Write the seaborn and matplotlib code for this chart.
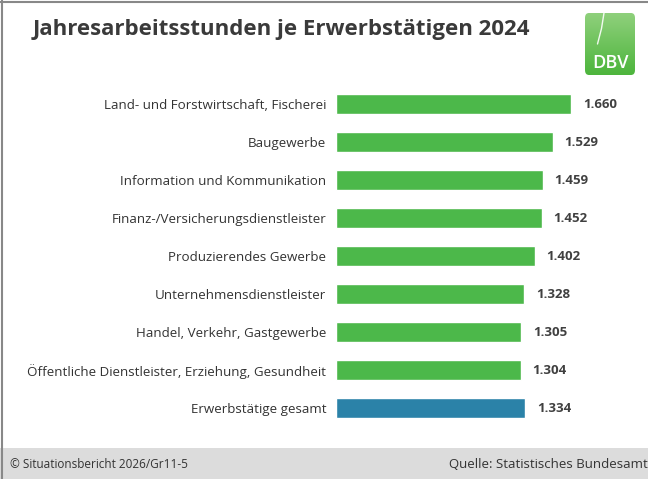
import matplotlib
matplotlib.use('Agg')
import matplotlib.pyplot as plt
import seaborn as sns
import numpy as np
import pandas as pd
from matplotlib.patches import FancyBboxPatch, Rectangle
from matplotlib.lines import Line2D

# Daten
branchen = [
    'Land- und Forstwirtschaft, Fischerei',
    'Baugewerbe',
    'Information und Kommunikation',
    'Finanz-/Versicherungsdienstleister',
    'Produzierendes Gewerbe',
    'Unternehmensdienstleister',
    'Handel, Verkehr, Gastgewerbe',
    'Öffentliche Dienstleister, Erziehung, Gesundheit',
    'Erwerbstätige gesamt',
]
stunden = [1660, 1529, 1459, 1452, 1402, 1328, 1305, 1304, 1334]
farben = ['#4cb84a'] * 8 + ['#2b82a8']

sns.set_style("white")
plt.rcParams['font.family'] = ['Open Sans', 'DejaVu Sans']

df = pd.DataFrame({'branche': branchen, 'stunden': stunden})

fig = plt.figure(figsize=(6.48, 4.79), dpi=100)
ax = fig.add_axes([336 / 648, 52 / 479, 300 / 648, 342 / 479])

sns.barplot(data=df, x='stunden', y='branche', hue='branche',
            palette=farben, legend=False, width=0.55, saturation=1, ax=ax)

ax.set_xlim(0, 300 / 0.1416)
ax.set_ylim(8.5, -0.5)
for i, v in enumerate(stunden):
    ax.text(v + 85, i, f'{v:,}'.replace(',', '.'), va='center', ha='left',
            fontsize=9.5, fontweight='bold', color='#404040')

ax.set_xlabel('')
ax.set_ylabel('')
ax.set_xticks([])
ax.tick_params(axis='y', length=0, pad=7, labelsize=9.6, labelcolor='#333333')
sns.despine(ax=ax, left=True, bottom=True)

# Titel
fig.text(33 / 648, 1 - 30 / 479, 'Jahresarbeitsstunden je Erwerbstätigen 2024',
         fontsize=16, fontweight='bold', color='#3a3a3a', va='center', ha='left')

# Logo mit Verlauf
lax = fig.add_axes([585 / 648, 1 - 75 / 479, 50 / 648, 62 / 479])
verlauf = np.linspace(0, 1, 64).reshape(-1, 1)
cmap = matplotlib.colors.LinearSegmentedColormap.from_list('dbv', ['#8fd07c', '#4db53c'])
img = lax.imshow(verlauf, aspect='auto', cmap=cmap, extent=(0, 1, 0, 1), origin='upper')
clip = FancyBboxPatch((0, 0), 1, 1, boxstyle='round,pad=0,rounding_size=0.08',
                      transform=lax.transAxes, facecolor='none', edgecolor='none')
lax.add_patch(clip)
img.set_clip_path(clip)
lax.plot([0.38, 0.33, 0.25], [1.0, 0.75, 0.5], color='white', lw=1, alpha=0.9)
lax.text(0.5, 0.2, 'DBV', color='white', fontsize=13, ha='center', va='center',
         fontweight='semibold', transform=lax.transAxes)
lax.set_xlim(0, 1)
lax.set_ylim(0, 1)
lax.axis('off')

# Fußzeile
fig.patches.append(Rectangle((0, 0), 1, 31 / 479, transform=fig.transFigure,
                             facecolor='#dcdcdc', edgecolor='none'))
fig.text(10 / 648, 15 / 479, '© Situationsbericht 2026/Gr11-5', fontsize=8.5,
         color='#333333', va='center', ha='left')
fig.text(648 / 648, 15 / 479, 'Quelle: Statistisches Bundesamt', fontsize=9.5,
         color='#333333', va='center', ha='right')

# Rahmen
fig.lines.append(Line2D([0, 1], [1 - 2 / 479, 1 - 2 / 479], transform=fig.transFigure,
                        color='#888888', linewidth=1.5))
fig.lines.append(Line2D([2 / 648, 2 / 648], [0, 1], transform=fig.transFigure,
                        color='#888888', linewidth=1.5))

plt.savefig('out.png', dpi=100)
plt.close()
